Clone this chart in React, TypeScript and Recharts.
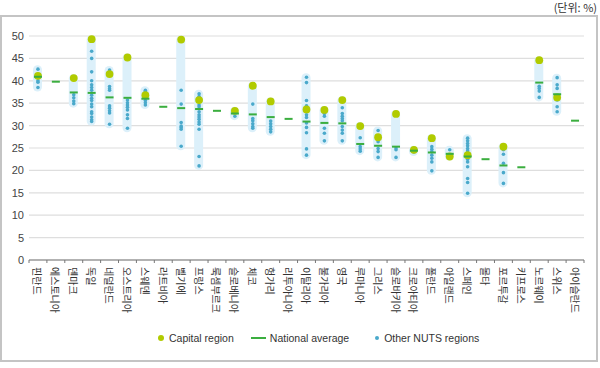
import React from "react";
import {
  ComposedChart,
  Bar,
  Scatter,
  XAxis,
  YAxis,
  CartesianGrid,
} from "recharts";

const countries = [
  "핀란드", "에스토니아", "덴마크", "독일", "네덜란드", "오스트리아", "스웨덴", "라트비아",
  "벨기에", "프랑스", "룩셈부르크", "슬로베니아", "체코", "헝가리", "리투아니아", "이탈리아",
  "불가리아", "영국", "루마니아", "그리스", "슬로바키아", "크로아티아", "폴란드", "아일랜드",
  "스페인", "몰타", "포르투갈", "키프로스", "노르웨이", "스위스", "아이슬란드",
];

const capitalRegion: (number | null)[] = [
  41.1, null, 40.6, 49.3, 41.5, 45.2, 36.8, null, 49.2, 35.7, null, 33.3, 38.9, 35.4, null, 33.6,
  33.5, 35.7, 29.9, 27.4, 32.6, 24.6, 27.2, 23.1, 23.4, null, 25.3, null, 44.6, 36.3, null,
];

const nationalAverage = [
  40.9, 39.8, 37.4, 37.3, 36.3, 36.2, 36.0, 34.2, 33.9, 33.7, 33.3, 32.7, 32.5, 31.9, 31.5, 30.9,
  30.6, 30.5, 25.9, 25.5, 25.3, 24.4, 24.0, 23.7, 23.1, 22.5, 21.1, 20.7, 39.6, 37.0, 31.1,
];

const otherRegions: number[][] = [
  [42.6, 40.0, 39.7, 38.5],
  [],
  [36.9, 36.2, 35.5, 34.9],
  [46.6, 45.0, 42.0, 40.0, 39.1, 38.5, 37.9, 36.8, 36.1, 35.6, 34.8, 34.2, 33.1, 32.7, 31.9, 31.3, 30.9],
  [42.4, 38.7, 38.2, 37.9, 34.4, 33.9, 33.3, 32.8, 30.3],
  [35.7, 35.1, 34.6, 34.1, 33.5, 32.4, 31.6, 29.4],
  [37.9, 37.6, 35.6, 35.1, 34.6],
  [],
  [37.9, 34.8, 30.7, 29.9, 29.6, 29.2, 25.4],
  [37.1, 36.5, 34.6, 34.2, 33.1, 32.4, 31.9, 31.4, 30.8, 30.3, 29.2, 23.1, 21.0],
  [],
  [32.1],
  [34.8, 31.6, 31.1, 30.4, 29.8, 29.4],
  [31.0, 30.4, 29.8, 29.2, 28.6],
  [],
  [40.8, 39.6, 35.6, 34.4, 32.4, 31.8, 30.6, 29.6, 28.4, 24.8, 23.4],
  [32.7, 32.1, 29.4, 28.3, 26.6],
  [34.0, 32.7, 32.1, 31.6, 31.1, 29.8, 29.0, 28.3, 26.6],
  [27.3, 25.3, 24.8, 24.3],
  [28.9, 26.4, 24.9, 24.2, 22.9],
  [25.0, 24.6, 22.9],
  [24.1],
  [25.3, 24.7, 24.2, 23.4, 22.7, 21.9, 19.9],
  [24.6],
  [27.2, 26.6, 26.0, 25.5, 24.9, 24.4, 22.5, 21.9, 20.8, 18.2, 17.3, 14.9],
  [],
  [24.6, 23.6, 21.6, 19.5, 17.1],
  [],
  [38.8, 38.3, 37.7, 36.3],
  [40.7, 39.1, 38.3, 35.7, 34.2, 33.1],
  [],
];

const yTicks = [0, 5, 10, 15, 20, 25, 30, 35, 40, 45, 50];

const CAPITAL_COLOR = "#b1cb00";
const AVG_COLOR = "#3bae3f";
const DOT_COLOR = "#4aa9cb";
const RANGE_COLOR = "#dcf0fa";

const maxDots = Math.max(...otherRegions.map((r) => r.length));
const dotKeys = Array.from({ length: maxDots }, (_, i) => `o${i}`);

const data = countries.map((name, i) => {
  const row: any = { name, capital: capitalRegion[i], avg: nationalAverage[i] };
  const others = otherRegions[i];
  others.forEach((v, j) => {
    row[`o${j}`] = v;
  });
  if (others.length) {
    const all = capitalRegion[i] != null ? [...others, capitalRegion[i] as number] : others;
    row.range = [Math.min(...all), Math.max(...all)];
  }
  return row;
});

const W = 600;
const H = 368;
const M = { top: 36, right: 16, bottom: 0, left: 0 };
const Y_W = 29;
const PLOT_W = W - M.left - M.right - Y_W;
const BAND = PLOT_W / countries.length;

const RangeShape = (props: any) => {
  const { x, y, width, height } = props;
  if (x == null || y == null || !Number.isFinite(height)) return null;
  const top = Math.min(y, y + height);
  const h = Math.abs(height);
  return (
    <rect x={x} y={top - 4} width={width} height={h + 8} rx={width / 2} ry={width / 2} fill={RANGE_COLOR} />
  );
};

const makeDot = (key: string, r: number, color: string) => (props: any) => {
  const { cx, cy, payload } = props;
  if (!payload || payload[key] == null || !Number.isFinite(cx) || !Number.isFinite(cy)) return <g />;
  return <circle cx={cx} cy={cy} r={r} fill={color} />;
};

const AvgShape = (props: any) => {
  const { cx, cy, payload } = props;
  if (!payload || payload.avg == null || !Number.isFinite(cy)) return <g />;
  return <rect x={cx - 4} y={cy - 1} width={8} height={2} fill={AVG_COLOR} />;
};

const XTick = (props: any) => {
  const { x, y, payload, index } = props;
  const last = index === countries.length - 1;
  return (
    <g>
      <line x1={x - BAND / 2} y1={y} x2={x - BAND / 2} y2={y + 3} stroke="#777" strokeWidth={1} />
      {last && <line x1={x + BAND / 2} y1={y} x2={x + BAND / 2} y2={y + 3} stroke="#777" strokeWidth={1} />}
      <text
        x={x}
        y={y + 7}
        transform={`rotate(90, ${x}, ${y + 7})`}
        textAnchor="start"
        dominantBaseline="central"
        fontSize={10}
        fill="#333"
        fontFamily="'Noto Sans CJK KR', sans-serif"
      >
        {payload.value}
      </text>
    </g>
  );
};

const legendText: React.CSSProperties = {
  fontFamily: "'Liberation Sans', Arial, sans-serif",
  fontSize: 10.5,
  color: "#333",
  whiteSpace: "nowrap",
};

export default function App() {
  return (
    <div style={{ position: "relative", width: W, height: H, background: "#fff" }}>
      <style>{"body{margin:0}"}</style>
      <div
        style={{
          position: "absolute",
          left: 0,
          top: 15,
          width: 598,
          height: 347,
          boxSizing: "border-box",
          border: "2px solid #c4c4c4",
        }}
      />
      <div
        style={{
          position: "absolute",
          right: 3,
          top: 0,
          fontSize: 11,
          lineHeight: "14px",
          color: "#333",
          fontFamily: "'Noto Sans CJK KR', sans-serif",
        }}
      >
        (단위: %)
      </div>
      <div style={{ position: "absolute", left: 0, top: 0 }}>
        <ComposedChart width={W} height={H} data={data} margin={M} barCategoryGap={0}>
          <CartesianGrid vertical={false} stroke="#dedede" strokeWidth={1.2} />
          <XAxis
            dataKey="name"
            interval={0}
            height={H - M.top - 224}
            tickLine={false}
            tickSize={0}
            tickMargin={0}
            axisLine={{ stroke: "#777" }}
            tick={<XTick />}
          />
          <YAxis
            domain={[0, 50]}
            ticks={yTicks}
            width={Y_W}
            axisLine={false}
            tickLine={false}
            tickSize={3}
            tickMargin={2}
            interval={0}
            tick={{ fontSize: 11, fill: "#444", fontFamily: "'Liberation Sans', Arial, sans-serif" }}
          />
          <Bar dataKey="range" barSize={9} shape={<RangeShape />} isAnimationActive={false} />
          {dotKeys.map((k) => (
            <Scatter key={k} dataKey={k} shape={makeDot(k, 1.8, DOT_COLOR)} isAnimationActive={false} />
          ))}
          <Scatter dataKey="capital" shape={makeDot("capital", 3.9, CAPITAL_COLOR)} isAnimationActive={false} />
          <Scatter dataKey="avg" shape={<AvgShape />} isAnimationActive={false} />
        </ComposedChart>
      </div>
      <div
        style={{
          position: "absolute",
          top: 331,
          left: 158,
          display: "flex",
          alignItems: "center",
          height: 14,
        }}
      >
        <span style={{ width: 6, height: 6, borderRadius: 3, background: CAPITAL_COLOR, display: "inline-block" }} />
        <span style={{ ...legendText, marginLeft: 5 }}>Capital region</span>
        <span style={{ width: 15, height: 2, background: AVG_COLOR, display: "inline-block", marginLeft: 17 }} />
        <span style={{ ...legendText, marginLeft: 4 }}>National average</span>
        <span style={{ width: 4, height: 4, borderRadius: 2, background: DOT_COLOR, display: "inline-block", marginLeft: 26 }} />
        <span style={{ ...legendText, marginLeft: 5 }}>Other NUTS regions</span>
      </div>
    </div>
  );
}
